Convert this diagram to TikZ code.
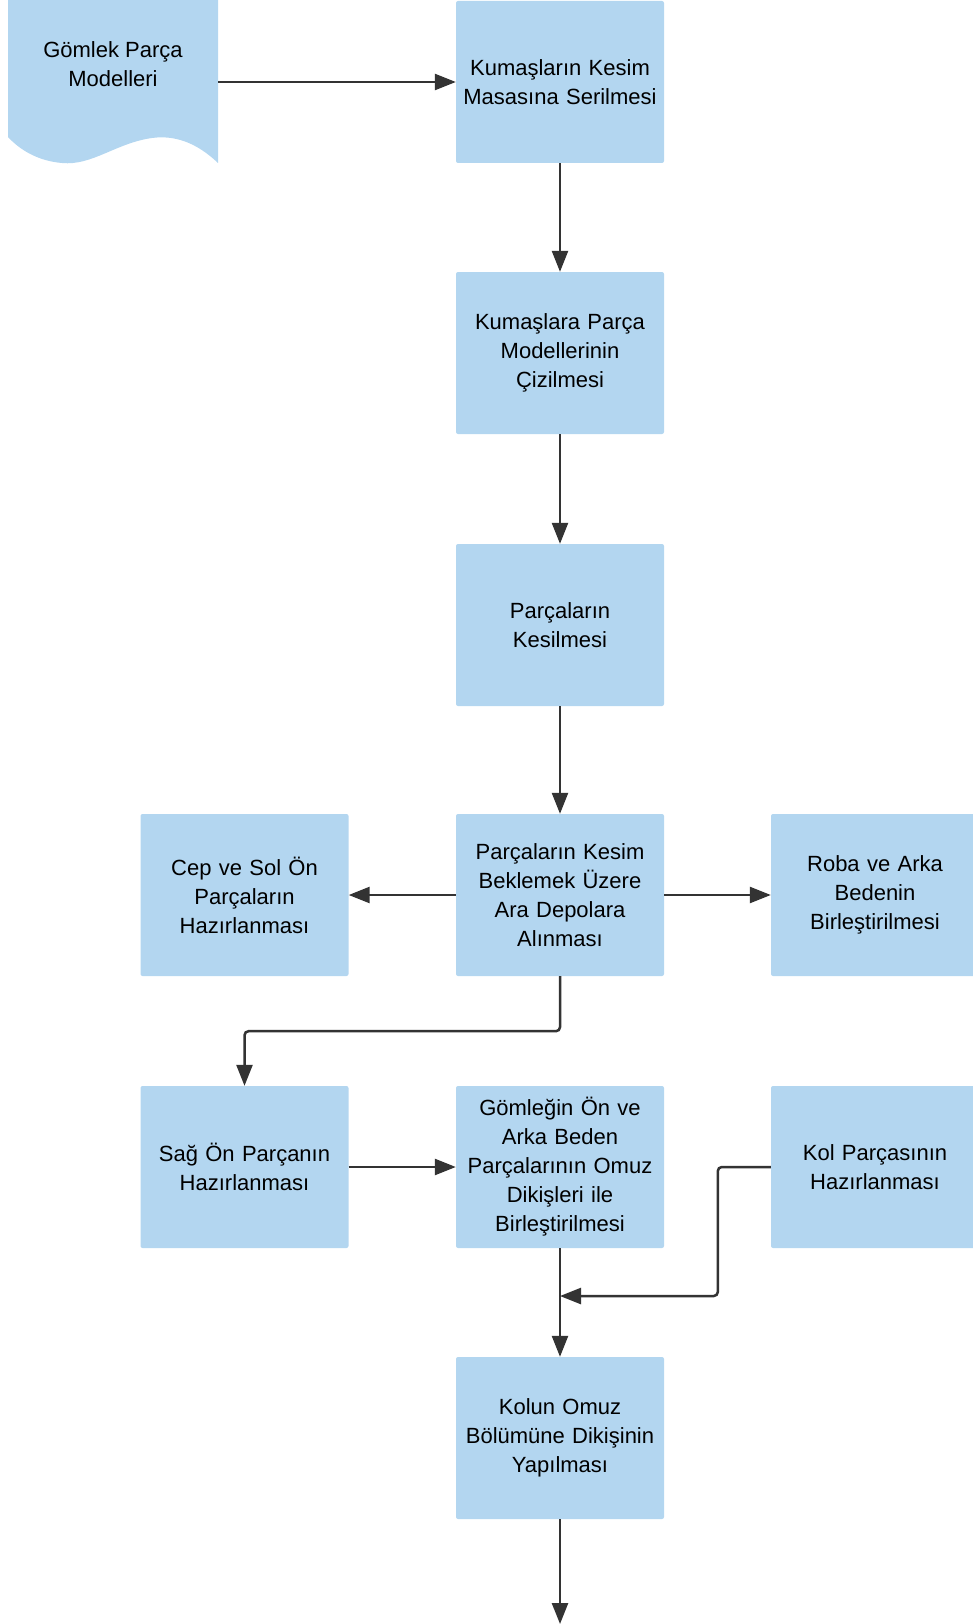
\documentclass[tikz,border=0pt]{standalone}
\usepackage{fontspec}
\setmainfont{Liberation Sans}
\usetikzlibrary{arrows.meta}
\definecolor{boxblue}{RGB}{179,214,240}
\definecolor{linegray}{RGB}{51,51,51}
\tikzset{>={Triangle[length=21pt,width=16pt]},every node/.style={font=\fontsize{22}{29}\selectfont},
  proc/.style={fill=boxblue,rounded corners=2pt,minimum width=208pt,minimum height=162pt,inner sep=0pt,align=center,text width=200pt},
  flow/.style={draw=linegray,line width=2.5pt,->,rounded corners=4pt}}

\begin{document}
\begin{tikzpicture}[x=1pt,y=-1pt]
\useasboundingbox (0,0) rectangle (972,1624);
\fill[boxblue] (8,0)--(218,0)--(218,163) .. controls (196,142) and (174,135) .. (152,138) .. controls (116,143) and (92,166) .. (62,163) .. controls (38,161) and (20,150) .. (8,137)--cycle;
\node[minimum width=210pt,minimum height=163pt] (model) at (113,82){};\node[align=center] (modeltxt) at (113,64){Gömlek Parça\\Modelleri};
\node[proc] (serme) at (560,82){Kumaşların Kesim\\Masasına Serilmesi};
\node[proc] (cizim) at (560,353){Kumaşlara Parça\\Modellerinin\\Çizilmesi};
\node[proc] (kesim) at (560,625){Parçaların\\Kesilmesi};
\node[proc] (depo) at (560,895){Parçaların Kesim\\Beklemek Üzere\\Ara Depolara\\Alınması};
\node[proc] (cep) at (244.5,895){Cep ve Sol Ön\\Parçaların\\Hazırlanması};
\node[proc] (roba) at (875,895){Roba ve Arka\\Bedenin\\Birleştirilmesi};
\node[proc] (sag) at (244.5,1167){Sağ Ön Parçanın\\Hazırlanması};
\node[proc] (omuz) at (560,1167){Gömleğin Ön ve\\Arka Beden\\Parçalarının Omuz\\Dikişleri ile\\Birleştirilmesi};
\node[proc] (kol) at (875,1167){Kol Parçasının\\Hazırlanması};
\node[proc] (dikis) at (560,1438){Kolun Omuz\\Bölümüne Dikişinin\\Yapılması};
\coordinate (birles) at (560,1296);\coordinate (son) at (560,1624);
\draw[flow] (model.east)--(serme.west);
\draw[flow] (serme.south)--(cizim.north);
\draw[flow] (cizim.south)--(kesim.north);
\draw[flow] (kesim.south)--(depo.north);
\draw[flow] (depo.west)--(cep.east);\draw[flow] (depo.east)--(roba.west);
\draw[flow] (depo.south)--++(0,55)-|(sag.north);
\draw[flow] (sag.east)--(omuz.west);
\draw[flow] (kol.west)--++(-53,0)|-(birles);
\draw[flow] (omuz.south)--(dikis.north);
\draw[flow] (dikis.south)--(son);
\end{tikzpicture}
\end{document}
